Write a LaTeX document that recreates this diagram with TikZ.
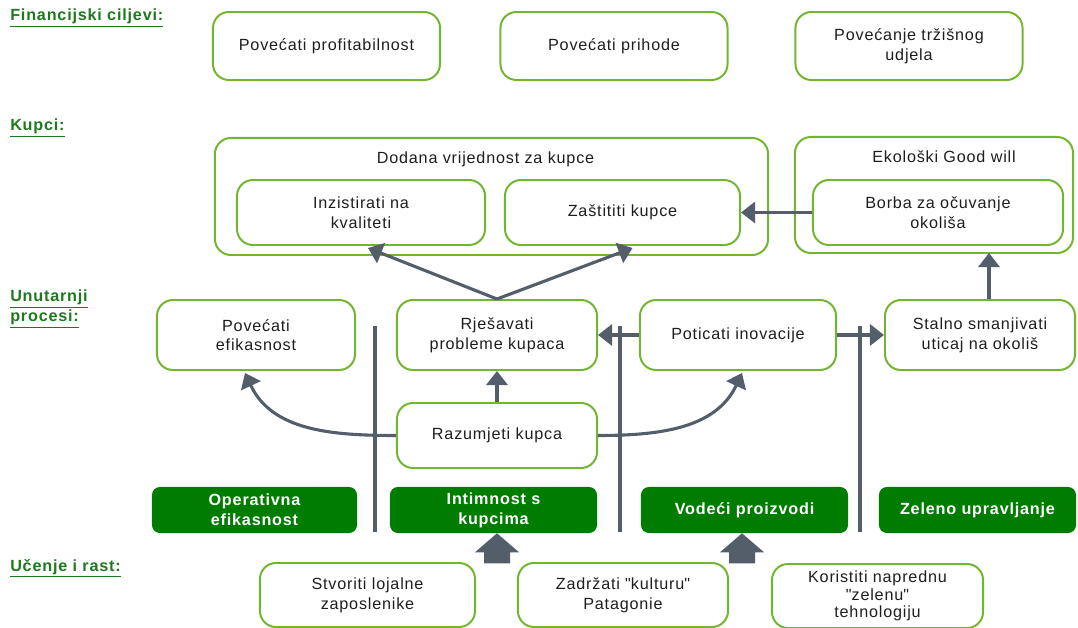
\documentclass[tikz,border=0pt]{standalone}
\usepackage{fontspec}
\setmainfont{Liberation Sans}[LetterSpace=5]
\usetikzlibrary{calc,arrows.meta}
\definecolor{boxgreen}{RGB}{112,182,46}
\definecolor{themegreen}{RGB}{0,125,0}
\definecolor{persgreen}{RGB}{30,120,30}
\definecolor{linkgray}{RGB}{83,94,106}
\definecolor{txtgray}{RGB}{30,30,30}

\begin{document}
\begin{tikzpicture}[x=0.025cm,y=-0.025cm,
    goal/.style={draw=boxgreen,line width=1.4pt,rounded corners=0.4cm,align=center,text=txtgray,font=\fontsize{11.5}{14}\selectfont,inner sep=2pt},
    theme/.style={fill=themegreen,rounded corners=0.2cm,align=center,text=white,font=\fontsize{11.5}{14}\selectfont\bfseries,minimum height=1.15cm,inner sep=1pt},
    link/.style={draw=linkgray,line width=2.2pt,-{Triangle[width=15pt,length=10pt]}},
    divider/.style={draw=linkgray,line width=2.2pt},
    persp/.style={anchor=north west,inner sep=0pt,align=left,text=persgreen,font=\fontsize{11.5}{14}\selectfont\bfseries}]

\useasboundingbox (0,0) rectangle (1078,628);

\node[persp] (fin) at (10,9) {\underline{Financijski ciljevi:}};
\node[persp] (kup) at (10,119) {\underline{Kupci:}};
\node[persp] (unut) at (10,290) {\underline{Unutarnji}\\\underline{procesi:}};
\node[persp] (ucenje) at (10,559) {\underline{Učenje i rast:}};

\foreach \n/\x/\t in {profit/326.5/Povećati profitabilnost,prihod/614/Povećati prihode,udio/909/{Povećanje tržišnog\\udjela}}
    \node[goal,minimum width=5.675cm,minimum height=1.7cm] (\n) at (\x,46) {\t};

\node[goal,minimum width=13.825cm,minimum height=2.925cm] (dodana) at (491.5,196.5) {};
\node[text=txtgray,font=\fontsize{11.5}{14}\selectfont] (dodanat) at ($(dodana.north)+(-6,22)$) {Dodana vrijednost za kupce};
\node[goal,minimum width=6.2cm,minimum height=1.625cm] (inzistirati) at (361,212.5) {Inzistirati na\\kvaliteti};
\node[goal,minimum width=5.875cm,minimum height=1.625cm] (zastititi) at (622.5,212.5) {Zaštititi kupce};
\node[goal,minimum width=6.95cm,minimum height=2.9cm] (ekoloski) at (934,195) {};
\node[text=txtgray,font=\fontsize{11.5}{14}\selectfont] (ekoloskit) at ($(ekoloski.north)+(10,21)$) {Ekološki Good will};
\node[goal,minimum width=6.25cm,minimum height=1.625cm] (borba) at (938,212.5) {Borba za očuvanje\\okoliša};

\node[goal,minimum width=4.95cm,minimum height=1.75cm] (efikasnost) at (256,335) {Povećati\\efikasnost};
\node[goal,minimum width=5cm,minimum height=1.75cm] (rjesavati) at (497,335) {Rješavati\\probleme kupaca};
\node[goal,minimum width=4.9cm,minimum height=1.75cm] (poticati) at (738,335) {Poticati inovacije};
\node[goal,minimum width=4.75cm,minimum height=1.75cm] (stalno) at (980,335) {Stalno smanjivati\\uticaj na okoliš};
\node[goal,minimum width=5cm,minimum height=1.625cm] (razumjeti) at (497,435.5) {Razumjeti kupca};

\foreach \n/\x/\w/\t in {operativna/254.5/5.125cm/{Operativna\\efikasnost},intimnost/493.5/5.175cm/{Intimnost s\\kupcima},vodeci/744.5/5.175cm/Vodeći proizvodi,zeleno/977.5/4.925cm/Zeleno upravljanje}
    \node[theme,minimum width=\w] (\n) at (\x,510) {\t};

\node[goal,minimum width=5.375cm,minimum height=1.6cm] (stvoriti) at (367.5,595) {Stvoriti lojalne\\zaposlenike};
\node[goal,minimum width=5.25cm,minimum height=1.6cm] (zadrzati) at (623,595) {Zadržati \textquotedbl kulturu\textquotedbl\\Patagonie};
\node[goal,minimum width=5.275cm,minimum height=1.6cm,font=\fontsize{11.5}{12.5}\selectfont] (koristiti) at (877.5,596) {Koristiti naprednu\\\textquotedbl zelenu\textquotedbl\\tehnologiju};

\foreach \x in {375,620,860}
    \draw[divider] (\x,326) -- (\x,532);

\draw[link] (rjesavati.north) -- ($(inzistirati.south)+(7,2)$);
\draw[link] (rjesavati.north) -- ($(zastititi.south)+(10,2)$);
\draw[link] (borba.west) -- (zastititi.east);
\draw[link] ($(stalno.north)+(9,0)$) -- ($(stalno.north |- borba.south)+(9,7)$);
\draw[link] (poticati.west) -- (rjesavati.east);
\draw[link] (poticati.east) -- (stalno.west);
\draw[link] (razumjeti.north) -- (rjesavati.south);
\draw[link] (razumjeti.west) to[out=180,in=-65] ($(efikasnost.south)+(-11,2)$);
\draw[link] (razumjeti.east) to[out=0,in=-115] ($(poticati.south)+(4,2)$);

\foreach \n/\dx in {intimnost/3.5,vodeci/-2.5}
    \fill[linkgray] ($(\n.south)+(\dx,0)$) -- ++(22,19) -- ++(-9,0) -- ++(0,11) -- ++(-26,0) -- ++(0,-11) -- ++(-9,0) -- cycle;

\end{tikzpicture}
\end{document}
